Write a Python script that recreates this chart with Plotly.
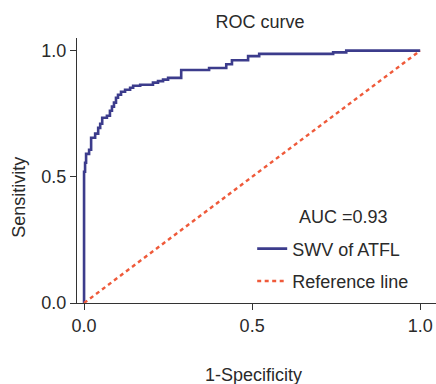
import plotly.graph_objects as go

# ROC curve corner points (1-specificity, sensitivity)
fpr = [0.0, 0.003, 0.006, 0.015, 0.021, 0.033, 0.042, 0.048, 0.054, 0.068, 0.077,
       0.083, 0.089, 0.095, 0.101, 0.110, 0.122, 0.137, 0.146, 0.167, 0.205,
       0.220, 0.235, 0.250, 0.289, 0.372, 0.423, 0.440, 0.488, 0.521, 0.741,
       0.780, 1.0]
tpr = [0.0, 0.520, 0.556, 0.591, 0.607, 0.655, 0.671, 0.694, 0.710, 0.734, 0.742,
       0.762, 0.778, 0.794, 0.813, 0.825, 0.837, 0.845, 0.853, 0.861, 0.865,
       0.873, 0.879, 0.885, 0.892, 0.923, 0.931, 0.946, 0.962, 0.978, 0.987,
       0.993, 1.0]
ref_x = [0.0, 1.0]
ref_y = [0.0, 1.0]
auc_text = "AUC =0.93"
tick_vals = [0.0, 0.5, 1.0]
tick_text = ["0.0", "0.5", "1.0"]

FONT = "Liberation Sans, Arial, sans-serif"
TXT = "#2a2a2a"
FS = 18
W, H = 436, 384

fig = go.Figure()
fig.add_trace(go.Scatter(x=fpr, y=tpr, mode="lines", name="SWV of ATFL",
                         line=dict(color="#3c3c8c", width=2.6, shape="vh"),
                         legendgroup="a"))
fig.add_trace(go.Scatter(x=ref_x, y=ref_y, mode="lines", name="Reference line",
                         line=dict(color="#ef5a3a", width=2.4, dash="4px,3.5px"),
                         legendgroup="b"))

axis_common = dict(showgrid=False, zeroline=False, showline=True,
                   linecolor="#333333", linewidth=1.3, ticks="outside",
                   ticklen=6, tickwidth=1.3, tickcolor="#333333",
                   tickvals=tick_vals, ticktext=tick_text,
                   tickfont=dict(family=FONT, size=FS, color=TXT))

fig.update_layout(
    width=W, height=H,
    margin=dict(l=77, r=0, t=38, b=81),
    paper_bgcolor="white", plot_bgcolor="white",
    font=dict(family=FONT, size=FS, color=TXT),
    title=dict(text="ROC curve", x=0.51, xref="paper", xanchor="center",
               y=1 - 22 / H, yref="container", yanchor="middle",
               font=dict(family=FONT, size=FS, color=TXT)),
    xaxis=dict(range=[-0.021, 1.047], **axis_common),
    yaxis=dict(range=[0, 1.05], **axis_common),
    showlegend=True,
    legend=dict(x=0.488, y=0.274, xanchor="left", yanchor="top",
                bgcolor="rgba(0,0,0,0)", tracegroupgap=6,
                font=dict(family=FONT, size=FS, color=TXT)),
    annotations=[
        dict(text=auc_text, x=0.741, y=0.326, xref="paper", yref="paper",
             xanchor="center", yanchor="middle", showarrow=False,
             font=dict(family=FONT, size=FS, color=TXT)),
        dict(text="1-Specificity", x=0.492, y=-0.272, xref="paper", yref="paper",
             xanchor="center", yanchor="middle", showarrow=False,
             font=dict(family=FONT, size=FS, color=TXT)),
        dict(text="Sensitivity", x=-0.164, y=0.398, xref="paper", yref="paper",
             xanchor="center", yanchor="middle", showarrow=False, textangle=-90,
             font=dict(family=FONT, size=FS, color=TXT)),
    ],
)

# remove the default 8px page margin so the figure fills the window exactly
fig.write_html("out.html",
               config={"displayModeBar": False},
               post_script="document.body.style.margin='0';"
                           "document.body.style.overflow='hidden';")
